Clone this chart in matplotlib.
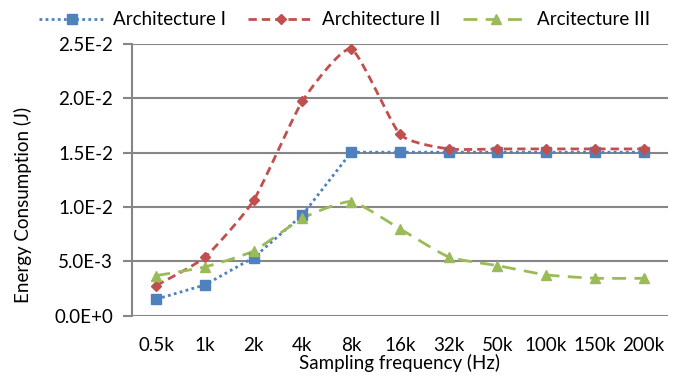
import numpy as np
import matplotlib.pyplot as plt
from matplotlib.lines import Line2D

plt.rcParams['font.family'] = ['Lato', 'DejaVu Sans']

freqs = ['0.5k', '1k', '2k', '4k', '8k', '16k', '32k', '50k', '100k', '150k', '200k']
arch1 = [0.00153, 0.00285, 0.00536, 0.00928, 0.01505, 0.01505, 0.01505, 0.01505, 0.01505, 0.01505, 0.01505]
arch2 = [0.00279, 0.0054, 0.01063, 0.01976, 0.02454, 0.0167, 0.01535, 0.01535, 0.01535, 0.01535, 0.01535]
arch3 = [0.0037, 0.0045, 0.00597, 0.00898, 0.0105, 0.0080, 0.00542, 0.00462, 0.00377, 0.00346, 0.00345]
yticks = [0, 0.005, 0.01, 0.015, 0.02, 0.025]
ytick_labels = ['0.0E+0', '5.0E-3', '1.0E-2', '1.5E-2', '2.0E-2', '2.5E-2']

blue = '#4F81BD'
red = '#C0504D'
green = '#9BBB59'
fs = 13.5


def smooth(x, y, n=20, k=11):
    # bezier smoothing, roughly what excel does for "smoothed line"
    x = np.asarray(x, float)
    y = np.asarray(y, float)
    px = np.concatenate([[x[0]], x, [x[-1]]])
    py = np.concatenate([[y[0]], y, [y[-1]]])
    xs, ys = [], []
    t = np.linspace(0, 1, n)
    for i in range(1, len(px) - 2):
        p0, p1, p2, p3 = [np.array([px[j], py[j]]) for j in range(i - 1, i + 3)]
        c1 = p1 + (p2 - p0) / k
        c2 = p2 - (p3 - p1) / k
        pts = ((1 - t) ** 3)[:, None] * p1 + (3 * (1 - t) ** 2 * t)[:, None] * c1 \
            + (3 * (1 - t) * t ** 2)[:, None] * c2 + (t ** 3)[:, None] * p2
        xs.extend(pts[:, 0])
        ys.extend(pts[:, 1])
    return xs, ys


fig = plt.figure(figsize=(6.73, 3.76), dpi=100)
ax = fig.add_axes([0.196, 0.16, 0.7965, 0.723])
x = np.arange(len(freqs))

ax.plot(x, arch1, color=blue, linestyle=(0, (1, 1.2)), linewidth=2, zorder=3)
ax.plot(x, arch1, color=blue, linestyle='none', marker='s', markersize=6.5, zorder=4)

sx, sy = smooth(x, arch2)
ax.plot(sx, sy, color=red, linestyle=(0, (3, 1.8)), linewidth=2, zorder=3)
ax.plot(x, arch2, color=red, linestyle='none', marker='D', markersize=5.5, zorder=4)

sx, sy = smooth(x, arch3)
ax.plot(sx, sy, color=green, linestyle=(0, (5, 3)), linewidth=2, zorder=3)
ax.plot(x, arch3, color=green, linestyle='none', marker='^', markersize=7, zorder=4)

ax.set_xlim(-0.5, len(freqs) - 0.5)
ax.set_ylim(0, 0.025)
ax.set_yticks(yticks)
ax.set_yticklabels(ytick_labels)
ax.set_xticks(x)
ax.set_xticklabels(freqs)
ax.tick_params(axis='x', length=0, labelsize=fs, pad=15)
ax.tick_params(axis='y', length=6.5, width=1.5, color='#868686', labelsize=fs, pad=7)
ax.yaxis.grid(True, color='#868686', linewidth=1.5)
ax.set_axisbelow(True)
for s in ['top', 'right', 'bottom']:
    ax.spines[s].set_visible(False)
ax.spines['left'].set_color('#868686')
ax.spines['left'].set_linewidth(1.5)

ax.set_xlabel('Sampling frequency (Hz)', fontsize=fs, labelpad=0.5)
ax.set_ylabel('Energy Consumption (J)', fontsize=fs)
ax.yaxis.set_label_coords(-0.186, 0.408)

handles = [
    Line2D([], [], color=blue, linestyle=(0, (1, 1.2)), linewidth=2, marker='s', markersize=6.5),
    Line2D([], [], color=red, linestyle=(0, (3, 1.8)), linewidth=2, marker='D', markersize=5.5),
    Line2D([], [], color=green, linestyle=(0, (5, 3)), linewidth=2, marker='^', markersize=7),
]
fig.legend(handles, ['Architecture I', 'Architecture II', 'Arcitecture III'],
           loc='center', bbox_to_anchor=(0.512, 0.947), ncol=3, frameon=False,
           fontsize=fs, handlelength=3.5, columnspacing=1.2, handletextpad=0.45)

fig.savefig('out.png', dpi=100)
